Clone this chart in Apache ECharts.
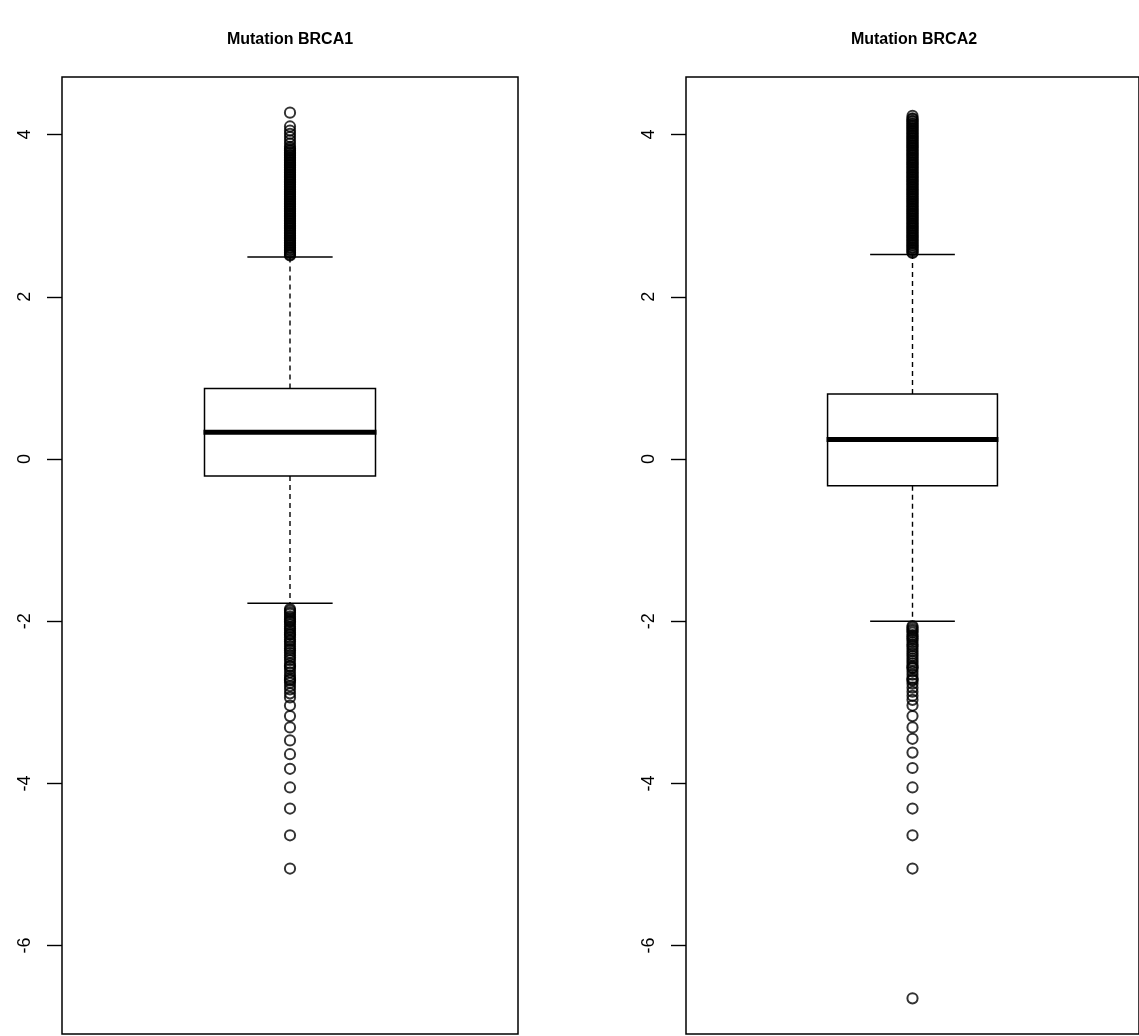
<!DOCTYPE html>
<html><head><meta charset="utf-8">
<script src="https://cdn.jsdelivr.net/npm/echarts@6/dist/echarts.min.js"></script>
<style>html,body{margin:0;padding:0;background:#fff}#c{width:1139px;height:1036px}</style>
</head><body><div id="c"></div>
<script>
const titles = ['Mutation BRCA1', 'Mutation BRCA2'];
const yTicks = [-6, -4, -2, 0, 2, 4];
// [lower whisker, Q1, median, Q3, upper whisker]
const brca1Box = [-1.78, -0.21, 0.33, 0.87, 2.49];
const brca2Box = [-2.00, -0.33, 0.24, 0.80, 2.52];

const brca1Upper = [2.51, 2.52, 2.54, 2.55, 2.57, 2.58, 2.60, 2.61, 2.63, 2.64, 2.66, 2.67, 2.69, 2.70, 2.72, 2.73, 2.75, 2.76, 2.78, 2.79, 2.81, 2.82, 2.84, 2.85, 2.87, 2.88, 2.90, 2.91, 2.93, 2.94, 2.96, 2.97, 2.99, 3.00, 3.02, 3.03, 3.05, 3.06, 3.08, 3.09, 3.11, 3.12, 3.14, 3.15, 3.17, 3.18, 3.20, 3.21, 3.23, 3.24, 3.26, 3.27, 3.29, 3.30, 3.32, 3.33, 3.35, 3.36, 3.38, 3.39, 3.41, 3.42, 3.44, 3.45, 3.47, 3.48, 3.50, 3.51, 3.53, 3.54, 3.56, 3.57, 3.59, 3.60, 3.62, 3.63, 3.65, 3.66, 3.68, 3.69, 3.71, 3.72, 3.74, 3.75, 3.77, 3.78, 3.80, 3.81, 3.83, 3.85, 3.89, 3.93, 3.97, 4.01, 4.05, 4.10, 4.27];
const brca1Lower = [-1.85, -1.87, -1.89, -1.91, -1.94, -1.96, -1.98, -2.00, -2.01, -2.04, -2.07, -2.09, -2.11, -2.14, -2.16, -2.17, -2.20, -2.23, -2.25, -2.28, -2.31, -2.34, -2.36, -2.39, -2.42, -2.45, -2.48, -2.52, -2.55, -2.56, -2.59, -2.63, -2.67, -2.70, -2.72, -2.73, -2.76, -2.80, -2.84, -2.89, -2.94, -3.04, -3.17, -3.31, -3.47, -3.64, -3.82, -4.05, -4.31, -4.64, -5.05];
const brca2Upper = [2.54, 2.55, 2.57, 2.58, 2.60, 2.61, 2.63, 2.64, 2.66, 2.67, 2.69, 2.70, 2.72, 2.73, 2.75, 2.76, 2.78, 2.79, 2.81, 2.82, 2.84, 2.85, 2.87, 2.88, 2.90, 2.91, 2.93, 2.94, 2.96, 2.97, 2.99, 3.00, 3.02, 3.03, 3.05, 3.06, 3.08, 3.09, 3.11, 3.12, 3.14, 3.15, 3.17, 3.18, 3.20, 3.21, 3.23, 3.24, 3.26, 3.27, 3.29, 3.30, 3.32, 3.33, 3.35, 3.36, 3.38, 3.39, 3.41, 3.42, 3.44, 3.45, 3.47, 3.48, 3.50, 3.51, 3.53, 3.54, 3.56, 3.57, 3.59, 3.60, 3.62, 3.63, 3.65, 3.66, 3.68, 3.69, 3.71, 3.72, 3.74, 3.75, 3.77, 3.78, 3.80, 3.81, 3.83, 3.84, 3.86, 3.87, 3.89, 3.90, 3.92, 3.93, 3.95, 3.96, 3.98, 3.99, 4.01, 4.02, 4.04, 4.05, 4.07, 4.08, 4.10, 4.11, 4.13, 4.14, 4.16, 4.17, 4.19, 4.20, 4.23];
const brca2Lower = [-2.06, -2.08, -2.10, -2.12, -2.14, -2.17, -2.19, -2.21, -2.23, -2.26, -2.29, -2.31, -2.34, -2.37, -2.40, -2.43, -2.46, -2.49, -2.52, -2.55, -2.57, -2.58, -2.62, -2.66, -2.70, -2.72, -2.73, -2.77, -2.82, -2.87, -2.92, -2.97, -3.04, -3.17, -3.31, -3.45, -3.62, -3.81, -4.05, -4.31, -4.64, -5.05, -6.65];

const boxes = [brca1Box, brca2Box];
const outliers = [brca1Upper.concat(brca1Lower), brca2Upper.concat(brca2Lower)];

const HALF_BOX = 0.2025, HALF_CAP = 0.101;
function renderBox(params, api) {
  const x = api.value(0);
  const lo = api.value(1), q1 = api.value(2), md = api.value(3), q3 = api.value(4), hi = api.value(5);
  const tl = api.coord([x - HALF_BOX, q3]);
  const br = api.coord([x + HALF_BOX, q1]);
  const mL = api.coord([x - HALF_BOX, md]);
  const mR = api.coord([x + HALF_BOX, md]);
  const cTop = api.coord([x, q3]), cHi = api.coord([x, hi]);
  const cBot = api.coord([x, q1]), cLo = api.coord([x, lo]);
  const capHiL = api.coord([x - HALF_CAP, hi]), capHiR = api.coord([x + HALF_CAP, hi]);
  const capLoL = api.coord([x - HALF_CAP, lo]), capLoR = api.coord([x + HALF_CAP, lo]);
  const solid = {stroke: '#000', lineWidth: 1.5, fill: null};
  const dashed = {stroke: '#000', lineWidth: 1.4, lineDash: [5, 4], fill: null};
  return {type: 'group', children: [
    {type: 'line', shape: {x1: cTop[0], y1: cTop[1], x2: cHi[0], y2: cHi[1]}, style: dashed},
    {type: 'line', shape: {x1: cBot[0], y1: cBot[1], x2: cLo[0], y2: cLo[1]}, style: dashed},
    {type: 'line', shape: {x1: capHiL[0], y1: capHiL[1], x2: capHiR[0], y2: capHiR[1]}, style: solid},
    {type: 'line', shape: {x1: capLoL[0], y1: capLoL[1], x2: capLoR[0], y2: capLoR[1]}, style: solid},
    {type: 'rect', shape: {x: tl[0], y: tl[1], width: br[0] - tl[0], height: br[1] - tl[1]}, style: {stroke: '#000', lineWidth: 1.5, fill: '#fff'}},
    {type: 'line', shape: {x1: mL[0] - 1, y1: mL[1], x2: mR[0] + 1, y2: mR[1]}, style: {stroke: '#000', lineWidth: 5}}
  ]};
}

const chart = echarts.init(document.getElementById('c'), null, {renderer: 'canvas'});
const gridLefts = [62, 686];
const option = {
  animation: false,
  backgroundColor: '#fff',
  title: titles.map((t, i) => ({
    text: t, left: gridLefts[i] + 223, top: 27, textAlign: 'center',
    textStyle: {fontFamily: 'Liberation Sans', fontWeight: 'bold', fontSize: 16, color: '#000'}
  })),
  grid: gridLefts.map(l => ({left: l, top: 77, width: 456, height: 957, show: true, borderColor: '#000', borderWidth: 1.5, backgroundColor: 'transparent'})),
  xAxis: [0, 1].map(i => ({type: 'value', gridIndex: i, min: 0.46, max: 1.54, show: false})),
  yAxis: [0, 1].map(i => ({
    type: 'value', gridIndex: i, min: -7.09, max: 4.71,
    axisLine: {show: false}, splitLine: {show: false},
    axisTick: {show: true, inside: false, length: 15, customValues: yTicks, lineStyle: {color: '#000', width: 1.4}},
    axisLabel: {show: true, customValues: yTicks, rotate: 90, margin: 28, fontSize: 18, color: '#000', fontFamily: 'Liberation Sans'}
  })),
  series: [0, 1].flatMap(i => [
    {type: 'custom', xAxisIndex: i, yAxisIndex: i, renderItem: renderBox, data: [[1].concat(boxes[i])], z: 2, silent: true},
    {type: 'scatter', xAxisIndex: i, yAxisIndex: i, symbol: 'circle', symbolSize: 10.2, z: 3, silent: true,
     itemStyle: {color: 'rgba(0,0,0,0)', borderColor: '#000', borderWidth: 2},
     data: outliers[i].map(v => [1, v])}
  ])
};
chart.setOption(option);
</script>
</body></html>
